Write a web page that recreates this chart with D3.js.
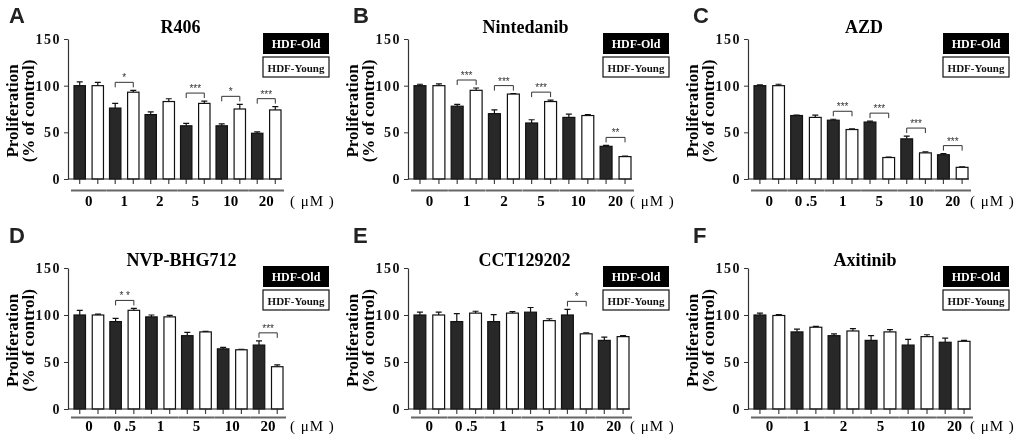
<!DOCTYPE html>
<html>
<head>
<meta charset="utf-8">
<script src="https://cdn.jsdelivr.net/npm/d3@7/dist/d3.min.js"></script>
<style>
  body { margin: 0; background: #fff; }
  svg { filter: grayscale(100%); }
  svg text { font-family: "Liberation Serif", "DejaVu Serif", serif; font-weight: bold; }
</style>
</head>
<body>
<svg width="1020" height="442"></svg>
<script>
// doses (tick labels)
let dosesA = ["0", "1", "2", "5", "10", "20"];
let dosesC = ["0", "0 .5", "1", "5", "10", "20"];

// A - R406
let oldA = [100, 76, 69, 57, 57, 49];
let oldErrA = [4, 5, 3, 2.5, 2, 1.5];
let youngA = [100, 93, 83, 81, 75, 74];
let youngErrA = [3.5, 2, 3, 2.5, 5, 3.5];
let sigA = ["", "*", "", "***", "*", "***"];

// B - Nintedanib
let oldB = [100, 78, 70, 60, 66, 35];
let oldErrB = [1.5, 2, 4, 3.5, 3.5, 1];
let youngB = [100, 95, 91, 83, 68, 24];
let youngErrB = [2, 2.5, 0.5, 1.5, 1, 0.5];
let sigB = ["", "***", "***", "***", "", "**"];

// C - AZD
let oldC = [100, 68, 63, 61, 43, 26];
let oldErrC = [1, 0.5, 1, 1, 3, 1.2];
let youngC = [100, 66, 53, 23, 28, 12.5];
let youngErrC = [1.5, 2.5, 0.8, 0.5, 1, 0.5];
let sigC = ["", "", "***", "***", "***", "***"];

// D - NVP-BHG712
let oldD = [100, 93, 98, 78, 64, 68];
let oldErrD = [5, 3.5, 2, 3.5, 1.5, 4.5];
let youngD = [100, 105, 98, 82, 63, 45];
let youngErrD = [1, 2, 1.5, 0.5, 0.5, 2];
let sigD = ["", "* *", "", "", "", "***"];

// E - CCT129202
let oldE = [100, 93, 93, 103, 100, 73];
let oldErrE = [3, 8.5, 7.5, 5, 6, 3.5];
let youngE = [100, 102, 102, 94, 80, 77];
let youngErrE = [3, 2, 1.5, 2, 1, 1];
let sigE = ["", "", "", "", "*", ""];

// F - Axitinib
let oldF = [100, 82, 78, 73, 68, 71];
let oldErrF = [2, 3, 2, 5, 6, 4.5];
let youngF = [99.5, 87, 83, 82, 77, 72];
let youngErrF = [1, 1, 2.5, 2.5, 2, 1];
let sigF = ["", "", "", "", "", ""];

let yTicks = [0, 50, 100, 150];
let legendNames = ["HDF-Old", "HDF-Young"];

let panels = [
  { letter: "A", title: "R406", doses: dosesA, old: oldA, oldErr: oldErrA, young: youngA, youngErr: youngErrA, sig: sigA, col: 0, row: 0, right: 281 },
  { letter: "B", title: "Nintedanib", doses: dosesA, old: oldB, oldErr: oldErrB, young: youngB, youngErr: youngErrB, sig: sigB, col: 1, row: 0, right: 291 },
  { letter: "C", title: "AZD", doses: dosesC, old: oldC, oldErr: oldErrC, young: youngC, youngErr: youngErrC, sig: sigC, col: 2, row: 0, right: 288 },
  { letter: "D", title: "NVP-BHG712", doses: dosesC, old: oldD, oldErr: oldErrD, young: youngD, youngErr: youngErrD, sig: sigD, col: 0, row: 1, right: 283 },
  { letter: "E", title: "CCT129202", doses: dosesC, old: oldE, oldErr: oldErrE, young: youngE, youngErr: youngErrE, sig: sigE, col: 1, row: 1, right: 289 },
  { letter: "F", title: "Axitinib", doses: dosesA, old: oldF, oldErr: oldErrF, young: youngF, youngErr: youngErrF, sig: sigF, col: 2, row: 1, right: 290 }
];

let colX = [0, 340, 680];
let rowsLayout = [
  { y0: 179, y150: 39, titleY: 33, legendY: 33, lineOff: 11.5, labelOff: 27, letterY: 23 },
  { y0: 409, y150: 268, titleY: 266, legendY: 266, lineOff: 8.5, labelOff: 22, letterY: 243 }
];

let serif = "'Liberation Serif', 'DejaVu Serif', serif";
let sans = "'Liberation Sans', Arial, sans-serif";
let darkFill = "#1f2a28";
let svg = d3.select("svg");

panels.forEach(drawPanel);

function drawPanel(p) {
  let L = rowsLayout[p.row];
  let axisX = 68;
  let g = svg.append("g")
    .attr("transform", `translate(${colX[p.col]},0)`)
    .attr("font-family", serif)
    .attr("font-weight", "bold");

  let y = d3.scaleLinear().domain([0, 150]).range([L.y0, L.y150]);
  let x0 = d3.scaleBand().domain(p.doses).range([74, p.right]).paddingInner(0.17);
  let x1 = d3.scaleBand().domain(["old", "young"]).range([0, x0.bandwidth()]).paddingInner(0.37);

  let rows = p.doses.map((d, i) => {
    return {
      dose: d,
      sig: p.sig[i],
      pair: [
        { k: "old", v: p.old[i], e: p.oldErr[i] },
        { k: "young", v: p.young[i], e: p.youngErr[i] }
      ]
    };
  });

  // panel letter
  g.append("text")
    .attr("x", p.col === 0 ? 9 : 13)
    .attr("y", L.letterY)
    .style("font-family", sans)
    .style("font-size", "22px")
    .attr("fill", "#222")
    .text(p.letter);

  // title
  g.append("text")
    .attr("x", (axisX + p.right) / 2 + 6)
    .attr("y", L.titleY)
    .attr("text-anchor", "middle")
    .style("font-family", serif)
    .style("font-size", "18px")
    .text(p.title);

  // y axis
  let yAxis = g.append("g")
    .attr("transform", `translate(${axisX},0)`)
    .call(d3.axisLeft(y).tickValues(yTicks).tickSize(4).tickSizeOuter(0).tickPadding(3).tickFormat(d3.format("d")));
  yAxis.select(".domain").attr("stroke", "#333").attr("stroke-width", 1.2);
  yAxis.selectAll(".tick line").attr("stroke", "#333");
  yAxis.selectAll(".tick text")
    .style("font-family", serif)
    .style("font-weight", "bold")
    .style("font-size", "14px")
    .style("letter-spacing", "1.5px")
    .attr("fill", "#111");

  // y label
  let cy = (L.y0 + L.y150) / 2 + 2;
  g.append("text")
    .attr("transform", `translate(18,${cy}) rotate(-90)`)
    .attr("text-anchor", "middle")
    .style("font-family", serif)
    .style("font-size", "17px")
    .text("Proliferation");
  g.append("text")
    .attr("transform", `translate(34,${cy}) rotate(-90)`)
    .attr("text-anchor", "middle")
    .style("font-family", serif)
    .style("font-size", "17px")
    .text("(% of control)");

  // groups
  let grp = g.selectAll("g.grp")
    .data(rows)
    .join("g")
    .attr("class", "grp")
    .attr("transform", (d) => `translate(${x0(d.dose)},0)`);

  // x ticks under each bar
  grp.selectAll("line.xt")
    .data((d) => d.pair)
    .join("line")
    .attr("class", "xt")
    .attr("x1", (d) => x1(d.k) + x1.bandwidth() / 2)
    .attr("x2", (d) => x1(d.k) + x1.bandwidth() / 2)
    .attr("y1", L.y0)
    .attr("y2", L.y0 + 5)
    .attr("stroke", "#444")
    .attr("stroke-width", 1.2);

  // error bars
  grp.selectAll("path.err")
    .data((d) => d.pair)
    .join("path")
    .attr("class", "err")
    .attr("d", (d) => {
      let cx = x1(d.k) + x1.bandwidth() / 2;
      let w = 3;
      return `M${cx},${y(d.v)}V${y(d.v + d.e)}M${cx - w},${y(d.v + d.e)}H${cx + w}`;
    })
    .attr("fill", "none")
    .attr("stroke", "#111")
    .attr("stroke-width", 1.2);

  // bars
  grp.selectAll("rect")
    .data((d) => d.pair)
    .join("rect")
    .attr("x", (d) => x1(d.k))
    .attr("y", (d) => y(d.v))
    .attr("width", x1.bandwidth())
    .attr("height", (d) => y(0) - y(d.v))
    .attr("fill", (d) => (d.k === "old" ? darkFill : "#fff"))
    .attr("stroke", "#111")
    .attr("stroke-width", 1.2);

  // significance brackets
  let sg = grp.filter((d) => d.sig !== "");
  sg.append("path")
    .attr("d", (d) => {
      let top = d3.min(d.pair, (q) => y(q.v + q.e)) - 8;
      let a = x1("old") + x1.bandwidth() / 2;
      let b = x1("young") + x1.bandwidth() / 2;
      return `M${a},${top + 5}V${top}H${b}V${top + 5}`;
    })
    .attr("fill", "none")
    .attr("stroke", "#333")
    .attr("stroke-width", 1);
  sg.append("text")
    .attr("x", x0.bandwidth() / 2)
    .attr("y", (d) => d3.min(d.pair, (q) => y(q.v + q.e)) - 9)
    .attr("text-anchor", "middle")
    .style("font-family", sans)
    .style("font-weight", "normal")
    .style("font-size", "10px")
    .attr("fill", "#333")
    .text((d) => d.sig);

  // x axis line
  g.append("line")
    .attr("x1", axisX)
    .attr("x2", p.right + 1)
    .attr("y1", L.y0)
    .attr("y2", L.y0)
    .attr("stroke", "#222")
    .attr("stroke-width", 1.2);

  // group underlines and dose labels
  grp.append("line")
    .attr("x1", -3)
    .attr("x2", x0.bandwidth() + 3)
    .attr("y1", L.y0 + L.lineOff)
    .attr("y2", L.y0 + L.lineOff)
    .attr("stroke", "#666")
    .attr("stroke-width", 2);
  grp.append("text")
    .attr("x", x0.bandwidth() / 2)
    .attr("y", L.y0 + L.labelOff)
    .attr("text-anchor", "middle")
    .style("font-family", serif)
    .style("font-size", "15px")
    .text((d) => d.dose);

  g.append("text")
    .attr("x", 290)
    .attr("y", L.y0 + L.labelOff)
    .style("font-family", serif)
    .style("font-size", "15px")
    .style("font-weight", "normal")
    .style("letter-spacing", "1px")
    .text("( μM )");

  // legend
  let lx = 263, lw = 66;
  g.append("rect")
    .attr("x", lx).attr("y", L.legendY)
    .attr("width", lw).attr("height", 21)
    .attr("fill", "#000");
  g.append("text")
    .attr("x", lx + lw / 2).attr("y", L.legendY + 15)
    .attr("text-anchor", "middle")
    .attr("fill", "#fff")
    .style("font-family", serif)
    .style("font-size", "12px")
    .text(legendNames[0]);
  g.append("rect")
    .attr("x", lx).attr("y", L.legendY + 24)
    .attr("width", lw).attr("height", 20)
    .attr("fill", "#fff")
    .attr("stroke", "#222")
    .attr("stroke-width", 1.3);
  g.append("text")
    .attr("x", lx + lw / 2).attr("y", L.legendY + 38.5)
    .attr("text-anchor", "middle")
    .attr("fill", "#111")
    .style("font-family", serif)
    .style("font-size", "11px")
    .text(legendNames[1]);
}
</script>
</body>
</html>
